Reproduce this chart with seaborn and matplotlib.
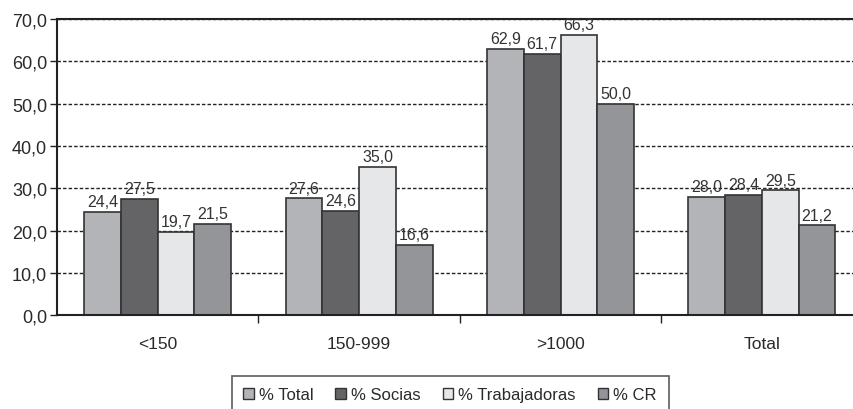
import pandas as pd
import seaborn as sns
import matplotlib.pyplot as plt
from matplotlib.ticker import FixedLocator, FuncFormatter

# data
categories = ['<150', '150-999', '>1000', 'Total']
series = ['% Total', '% Socias', '% Trabajadoras', '% CR']
pct_total = [24.4, 27.6, 62.9, 28.0]
pct_socias = [27.5, 24.6, 61.7, 28.4]
pct_trabajadoras = [19.7, 35.0, 66.3, 29.5]
pct_cr = [21.5, 16.6, 50.0, 21.2]

rows = []
for name, vals in zip(series, [pct_total, pct_socias, pct_trabajadoras, pct_cr]):
    for cat, v in zip(categories, vals):
        rows.append({'Tamaño': cat, 'Serie': name, 'Valor': v})
df = pd.DataFrame(rows)

colors = ['#b3b4b8', '#646466', '#e6e7e9', '#949598']

sns.set_style('white')
plt.rcParams['font.family'] = ['Liberation Sans', 'DejaVu Sans']

fig = plt.figure(figsize=(8.54, 4.10), dpi=100)
ax = fig.add_axes([0.0667, 0.229, 0.9333, 0.722])

sns.barplot(data=df, x='Tamaño', y='Valor', hue='Serie', order=categories,
            hue_order=series, palette=colors, width=0.73, saturation=1,
            edgecolor='#333333', linewidth=1.2, ax=ax)

fmt = lambda v: f'{v:.1f}'.replace('.', ',')
for cont in ax.containers:
    ax.bar_label(cont, labels=[fmt(b.get_height()) for b in cont],
                 padding=2, fontsize=11.5, color='#333333')

ax.set_ylim(0, 70)
ax.set_xlim(-0.5, 3.457)
ax.set_yticks(range(0, 80, 10))
ax.yaxis.set_major_formatter(FuncFormatter(lambda v, p: fmt(v)))
ax.tick_params(axis='y', which='major', left=True, length=5, width=1,
               color='#222222', labelsize=13, labelcolor='#2a2a2a', pad=2)

# group boundary ticks (major) and centred labels (minor)
ax.xaxis.set_major_locator(FixedLocator([0.5, 1.5, 2.5]))
ax.xaxis.set_major_formatter(FuncFormatter(lambda v, p: ''))
ax.xaxis.set_minor_locator(FixedLocator(range(len(categories))))
ax.set_xticklabels(categories, minor=True)
ax.tick_params(axis='x', which='major', bottom=True, length=6, width=1, color='#222222')
ax.tick_params(axis='x', which='minor', bottom=False, length=0, labelsize=12.5,
               labelcolor='#2a2a2a', pad=15)

ax.yaxis.grid(True, linestyle=(0, (2.5, 1.5)), color='#222222', linewidth=1)
ax.set_axisbelow(True)

for side in ['left', 'bottom', 'top']:
    ax.spines[side].set_visible(True)
    ax.spines[side].set_color('#222222')
    ax.spines[side].set_linewidth(1.5)
ax.spines['right'].set_visible(False)

ax.set_xlabel('')
ax.set_ylabel('')

handles, labels = ax.get_legend_handles_labels()
ax.get_legend().remove()
leg = fig.legend(handles, labels, loc='upper center', bbox_to_anchor=(0.527, 0.102),
                 ncol=4, frameon=True, fancybox=False, fontsize=12,
                 handlelength=0.65, handleheight=0.65, handletextpad=0.3,
                 columnspacing=1.3, borderpad=0.7)
leg.get_frame().set_edgecolor('#333333')
leg.get_frame().set_linewidth(1.2)
for h in leg.legend_handles:
    h.set_edgecolor('#333333')
    h.set_linewidth(1)
for t in leg.get_texts():
    t.set_color('#2a2a2a')

fig.savefig('out.png', dpi=100)
